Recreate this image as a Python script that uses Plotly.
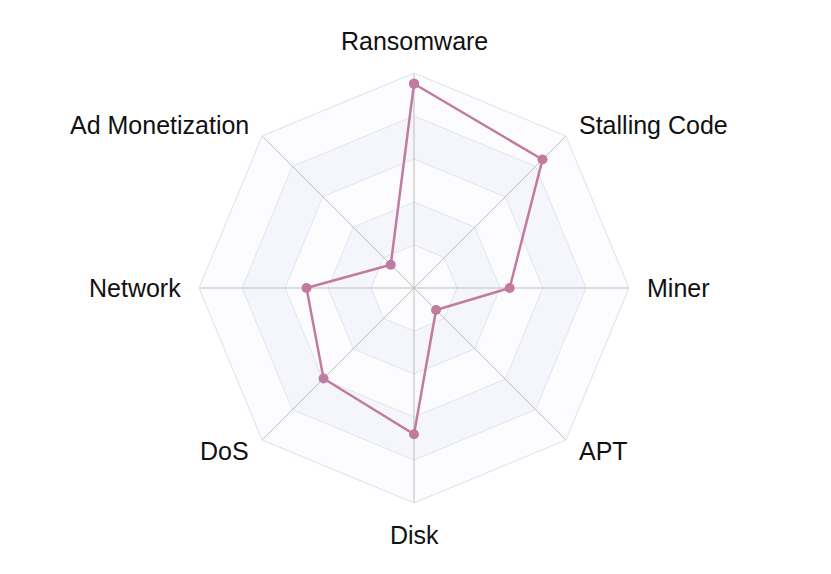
import math
import plotly.graph_objects as go

categories = ["Ransomware", "Stalling Code", "Miner", "APT", "Disk", "DoS", "Network", "Ad Monetization"]
values = [0.95, 0.845, 0.445, 0.145, 0.68, 0.595, 0.50, 0.153]
ring_levels = [0.2, 0.4, 0.6, 0.8, 1.0]
band_colors = ["#fcfcfe", "#f4f6fb"]

label_dist = 231  # px from centre to label anchor

fig = go.Figure()

# alternating split-area bands, drawn outermost first so inner ones sit on top
closed = categories + [categories[0]]
for i in reversed(range(len(ring_levels))):
    lvl = ring_levels[i]
    fig.add_trace(go.Scatterpolar(
        r=[lvl] * len(closed), theta=closed, mode="lines",
        fill="toself", fillcolor=band_colors[i % 2],
        line=dict(color="#dfe4f0", width=1),
        hoverinfo="skip", showlegend=False))

# spokes (the fills hide the angular grid, so redraw it on top)
spoke_r, spoke_t = [], []
for c in categories:
    spoke_r += [0, ring_levels[-1], None]
    spoke_t += [c, c, None]
fig.add_trace(go.Scatterpolar(
    r=spoke_r, theta=spoke_t, mode="lines",
    line=dict(color="#bdbdbd", width=1),
    hoverinfo="skip", showlegend=False))

fig.add_trace(go.Scatterpolar(
    r=values + [values[0]], theta=closed, mode="lines+markers",
    line=dict(color="#c27ba0", width=2.5),
    marker=dict(color="#c27ba0", size=10),
    showlegend=False))

# category names placed like echarts indicator names, around the polar centre
for k, name in enumerate(categories):
    a = 2 * math.pi * k / len(categories)
    sx, sy = math.sin(a), math.cos(a)
    xa = "left" if sx > 0.01 else ("right" if sx < -0.01 else "center")
    ya = "bottom" if sy > 0.99 else ("top" if sy < -0.99 else "middle")
    fig.add_annotation(x=0.5, y=0.5, xref="paper", yref="paper", text=name,
                       showarrow=False, xanchor=xa, yanchor=ya,
                       xshift=label_dist * sx, yshift=label_dist * sy)

fig.update_layout(
    width=831, height=574,
    paper_bgcolor="white",
    margin=dict(l=191, r=210, t=65, b=79),
    font=dict(family="Liberation Sans, Arial, sans-serif", size=25, color="#111"),
    polar=dict(
        bgcolor="white",
        gridshape="linear",
        radialaxis=dict(range=[0, 1], tickvals=ring_levels, showticklabels=False,
                        showline=False, showgrid=False, ticks=""),
        angularaxis=dict(direction="clockwise", rotation=90,
                         linecolor="#dfe4f0", linewidth=1,
                         showgrid=False, showticklabels=False, ticks=""),
    ),
)

fig.write_html("out.html")
